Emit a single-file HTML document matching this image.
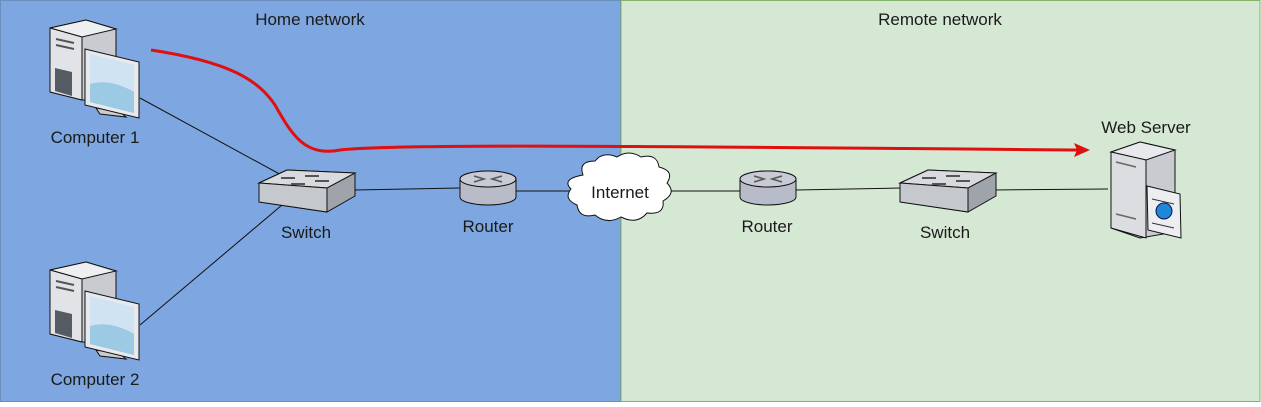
<!DOCTYPE html>
<html><head><meta charset="utf-8"><style>
body{margin:0;width:1261px;height:402px;overflow:hidden;background:#fff}
text{font-family:"Liberation Sans",sans-serif;font-size:17px;fill:#1a1a1a}
</style></head><body>
<svg width="1261" height="402" viewBox="0 0 1261 402">
<defs>
<g id="pc">
 <polygon points="0,8 36,0 66,9 66,80 32,80 0,72" fill="#c9cbd0" stroke="#111" stroke-width="1"/>
 <polygon points="0,8 36,0 66,9 32,17" fill="#eeeff1" stroke="#111" stroke-width="1"/>
 <polygon points="0,8 32,17 32,80 0,72" fill="#e2e3e6" stroke="#111" stroke-width="1"/>
 <polygon points="5,48 22,52 22,76 5,71" fill="#555b63"/>
 <line x1="6" y1="19" x2="24" y2="23" stroke="#555" stroke-width="2"/>
 <line x1="6" y1="25" x2="24" y2="29" stroke="#555" stroke-width="2"/>
 <polygon points="46,88 70,92 76,97 50,94" fill="#ccc" stroke="#111" stroke-width="1"/>
 <polygon points="35,29 89,42 89,98 35,85" fill="#e8e9ec" stroke="#111" stroke-width="1"/>
 <polygon points="40,34 84,45 84,93 40,82" fill="#cfe3f3"/>
 <path d="M40,64 Q60,58 84,72 L84,93 40,82Z" fill="#9cc9e3"/>
</g>
<g id="sw">
 <polygon points="0,13 28,0 96,3 96,26 68,42 0,32" fill="#9fa3aa" stroke="#111" stroke-width="1"/>
 <polygon points="0,13 28,0 96,3 68,18" fill="#d8dadd" stroke="#111" stroke-width="1"/>
 <polygon points="0,13 68,18 68,42 0,32" fill="#c5c8cc" stroke="#111" stroke-width="1"/>
 <path d="M22,8 h14 M46,6 h14 M32,14 h14 M56,11 h14" stroke="#555" stroke-width="2"/>
</g>
<g id="rt">
 <path d="M0,8 a28,8 0 0 1 56,0 v18 a28,8 0 0 1 -56,0z" fill="#b8bcc8" stroke="#111" stroke-width="1"/>
 <ellipse cx="28" cy="8" rx="28" ry="8" fill="#c8cbd6" stroke="#111" stroke-width="1"/>
 <path d="M14,5 l10,3 -10,3 M42,5 l-10,3 10,3" stroke="#555" stroke-width="1.5" fill="none"/>
</g>
</defs>
<rect x="0.5" y="0.5" width="620" height="401" fill="#7ea6e0" stroke="#6c8ebf"/>
<rect x="621" y="0.5" width="639" height="401" fill="#d5e8d4" stroke="#82b366"/>
<text x="310" y="25" text-anchor="middle">Home network</text>
<text x="940" y="25" text-anchor="middle">Remote network</text>
<g stroke="#111" stroke-width="1" fill="none">
<line x1="140" y1="98" x2="285" y2="177"/>
<line x1="140" y1="325" x2="282" y2="205"/>
<line x1="354" y1="190" x2="460" y2="188"/>
<line x1="516" y1="191" x2="575" y2="191"/>
<line x1="668" y1="191" x2="740" y2="191"/>
<line x1="796" y1="190" x2="900" y2="188"/>
<line x1="993" y1="190" x2="1108" y2="189"/>
</g>
<use href="#pc" x="50" y="20"/>
<use href="#pc" x="50" y="262"/>
<text x="95" y="143" text-anchor="middle">Computer 1</text>
<text x="95" y="385" text-anchor="middle">Computer 2</text>
<use href="#sw" x="259" y="170"/>
<text x="306" y="238" text-anchor="middle">Switch</text>
<use href="#rt" x="460" y="171"/>
<text x="488" y="232" text-anchor="middle">Router</text>
<use href="#rt" x="740" y="171"/>
<text x="767" y="232" text-anchor="middle">Router</text>
<use href="#sw" x="900" y="170"/>
<text x="945" y="238" text-anchor="middle">Switch</text>
<path d="M583,175 q-5,-14 12,-14 q8,-10 22,-4 q12,-8 24,0 q16,-4 18,10 q16,4 8,16 q10,10 -4,18 q2,14 -16,12 q-10,12 -26,4 q-14,8 -26,-2 q-16,4 -18,-10 q-14,-6 -6,-16 q-10,-10 12,-14z" fill="#fff" stroke="#111" stroke-width="1"/>
<text x="620" y="198" text-anchor="middle">Internet</text>
<g>
 <polygon points="1111,152 1140,142 1175,150 1175,232 1140,238 1111,228" fill="#c9cbd0" stroke="#111"/>
 <polygon points="1111,152 1140,142 1175,150 1146,160" fill="#e8e9ec" stroke="#111"/>
 <polygon points="1111,152 1146,160 1146,238 1111,228" fill="#dcdde0" stroke="#111"/>
 <line x1="1116" y1="162" x2="1136" y2="167" stroke="#666" stroke-width="1.5"/>
 <line x1="1116" y1="214" x2="1136" y2="219" stroke="#666" stroke-width="1.5"/>
 <polygon points="1147,186 1180,194 1181,238 1148,230" fill="#eceef2" stroke="#111"/>
 <circle cx="1164" cy="211" r="8" fill="#1e88d8" stroke="#114"/>
 <line x1="1152" y1="199" x2="1174" y2="204" stroke="#333"/>
 <line x1="1152" y1="223" x2="1174" y2="228" stroke="#333"/>
</g>
<text x="1146" y="133" text-anchor="middle">Web Server</text>
<path d="M151,50 C230,62 258,80 275,105 C292,135 305,157 340,150 C400,143 700,147 1078,150" fill="none" stroke="#e01010" stroke-width="3"/>
<polygon points="1090,150 1074,143 1077,150 1074,157" fill="#e01010"/>
</svg>
</body></html>
